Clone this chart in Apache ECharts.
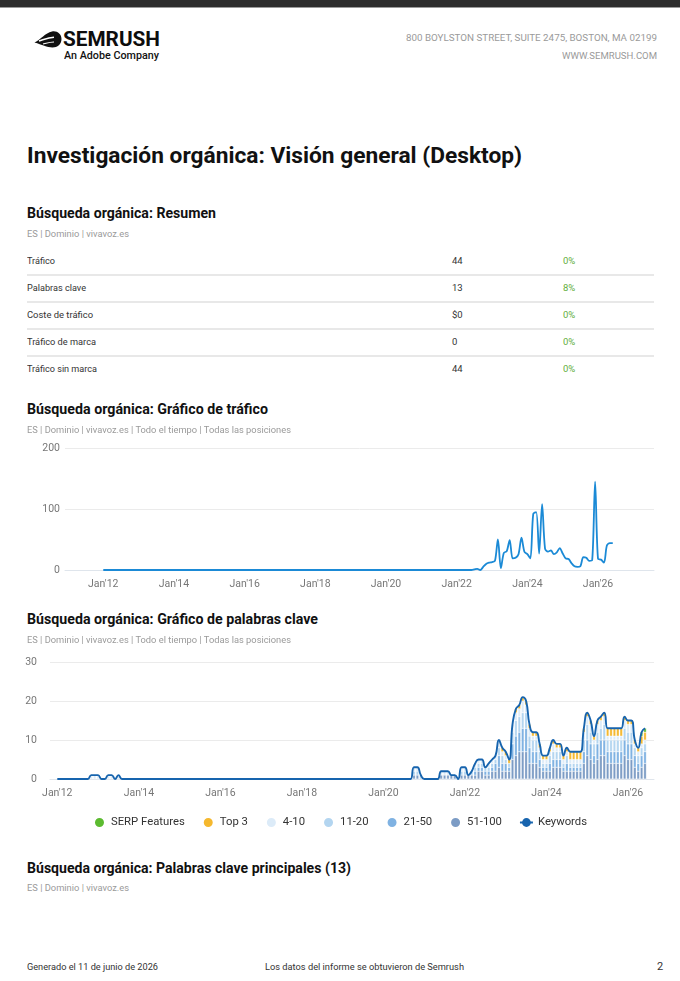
<!DOCTYPE html>
<html><head><meta charset="utf-8">
<script src="https://cdn.jsdelivr.net/npm/echarts@6/dist/echarts.min.js"></script>
<style>
html,body{margin:0;padding:0;background:#fff;}
body{width:680px;height:981px;position:relative;overflow:hidden;font-family:Roboto,"Noto Sans",sans-serif;color:#222;}
.t{position:absolute;white-space:nowrap;transform-origin:0 50%;display:inline-block;}
.sep{position:absolute;left:27px;width:627px;height:1.5px;background:#e8e8e8;}
#c1{position:absolute;left:0;top:430px;width:680px;height:175px;}
#c2{position:absolute;left:0;top:645px;width:680px;height:200px;}
</style></head>
<body>
<div style="position:absolute;left:0;top:0;width:680px;height:7px;background:#2d2d2d"></div>
<div style="position:absolute;left:0;top:7px;width:680px;height:1px;background:#9a9a9a"></div>
<svg style="position:absolute;left:33px;top:29px" width="30" height="20" viewBox="0 0 30 20">
<path d="M1.5 13.5 C8 10.5 12 4 19 2.5 C24 1.5 28.5 5 28.5 10 C28.5 15 24.5 18.5 19.5 18.5 C14 18.5 9 15.5 1.5 13.5 Z" fill="#111"/>
<path d="M6 12 C11 10.5 15 8.5 21 8.2" stroke="#fff" stroke-width="1.4" fill="none"/>
<path d="M10 15 C14 14 17 13 21 13" stroke="#fff" stroke-width="1.2" fill="none"/>
</svg>
<div class="sep" style="top:274px"></div>
<div class="sep" style="top:301px"></div>
<div class="sep" style="top:328px"></div>
<div class="sep" style="top:355px"></div>
<div id="c1"></div>
<div id="c2"></div>
<script>
// ---------- DATA ----------
const summaryLabels = ['Tráfico','Palabras clave','Coste de tráfico','Tráfico de marca','Tráfico sin marca'];
const summaryValues = ['44','13','$0','0','44'];
const summaryChanges = ['0%','8%','0%','0%','0%'];

const tickLabels = ["Jan'12","Jan'14","Jan'16","Jan'18","Jan'20","Jan'22","Jan'24","Jan'26"];

// monthly, Jan 2012 .. Jun 2026
const traffic = [
0,0,0,0,0,0,0,0,0,0,0,0, // 2012
0,0,0,0,0,0,0,0,0,0,0,0, // 2013
0,0,0,0,0,0,0,0,0,0,0,0, // 2014
0,0,0,0,0,0,0,0,0,0,0,0, // 2015
0,0,0,0,0,0,0,0,0,0,0,0, // 2016
0,0,0,0,0,0,0,0,0,0,0,0, // 2017
0,0,0,0,0,0,0,0,0,0,0,0, // 2018
0,0,0,0,0,0,0,0,0,0,0,0, // 2019
0,0,0,0,0,0,0,0,0,0,0,0, // 2020
0,0,0,0,0,0,0,0,0,0,0,0, // 2021
0,0,0,0,0,0,1,2,0,5,10,12, // 2022
13,15,50,3,28,31,49,19,20,26,53,30, // 2023
26,19,92,95,27,108,35,30,32,26,29,36, // 2024
27,19,18,11,6,5,6,21,20,15,16,145, // 2025
18,17,12,40,44,44 // 2026
];

const keywords = [
0,0,0,0,0,0,0,0,0,0,1,1, // 2012
1,0,0,1,1,0,1,0,0,0,0,0, // 2013
0,0,0,0,0,0,0,0,0,0,0,0, // 2014
0,0,0,0,0,0,0,0,0,0,0,0, // 2015
0,0,0,0,0,0,0,0,0,0,0,0, // 2016
0,0,0,0,0,0,0,0,0,0,0,0, // 2017
0,0,0,0,0,0,0,0,0,0,0,0, // 2018
0,0,0,0,0,0,0,0,0,0,0,0, // 2019
0,0,0,0,0,0,0,0,0,3,3,1, // 2020
0,0,0,0,0,2,2,2,1,1,0,3, // 2021
3,1,2,4,5,5,3,4,5,6,10,8, // 2022
7,5,14,18,19,21,20,14,12,12,9,6, // 2023
6,8,10,9,9,6,8,7,7,7,7,13, // 2024
17,15,11,15,16,17,13,13,13,13,13,16, // 2025
15,15,10,8,12,13 // 2026
];

const serpFeatures = [
0,0,0,0,0,0,0,0,0,0,0,0, 0,0,0,0,0,0,0,0,0,0,0,0,
0,0,0,0,0,0,0,0,0,0,0,0, 0,0,0,0,0,0,0,0,0,0,0,0,
0,0,0,0,0,0,0,0,0,0,0,0, 0,0,0,0,0,0,0,0,0,0,0,0,
0,0,0,0,0,0,0,0,0,0,0,0, 0,0,0,0,0,0,0,0,0,0,0,0,
0,0,0,0,0,0,0,0,0,0,0,0, 0,0,0,0,0,0,0,0,0,0,0,0, // 2020, 2021
0,0,0,0,0,0,0,0,0,0,0,0, // 2022
0,0,0,0,0,0,0,0,0,0,0,0, // 2023
0,0,0,0,0,0,0,0,0,0,0,0, // 2024
0,0,0,0,0,0,0,0,0,0,0,0, // 2025
0,0,0,0,1,1 // 2026
];
const top3 = [
0,0,0,0,0,0,0,0,0,0,0,0, 0,0,0,0,0,0,0,0,0,0,0,0,
0,0,0,0,0,0,0,0,0,0,0,0, 0,0,0,0,0,0,0,0,0,0,0,0,
0,0,0,0,0,0,0,0,0,0,0,0, 0,0,0,0,0,0,0,0,0,0,0,0,
0,0,0,0,0,0,0,0,0,0,0,0, 0,0,0,0,0,0,0,0,0,0,0,0,
0,0,0,0,0,0,0,0,0,0,0,0, 0,0,0,0,0,0,0,0,0,0,0,0, // 2020, 2021
0,0,0,0,0,0,0,0,0,0,0,1, // 2022
1,1,0,1,1,1,1,1,1,1,1,1, // 2023
1,1,1,1,1,1,1,2,2,2,2,1, // 2024
1,1,1,1,1,1,2,2,2,2,2,1, // 2025
1,1,1,1,2,2 // 2026
];
const pos4to10 = [
0,0,0,0,0,0,0,0,0,0,1,1, // 2012
1,0,0,1,1,0,1,0,0,0,0,0, // 2013
0,0,0,0,0,0,0,0,0,0,0,0, 0,0,0,0,0,0,0,0,0,0,0,0,
0,0,0,0,0,0,0,0,0,0,0,0, 0,0,0,0,0,0,0,0,0,0,0,0,
0,0,0,0,0,0,0,0,0,0,0,0, 0,0,0,0,0,0,0,0,0,0,0,0, // 2014-2019
0,0,0,0,0,0,0,0,0,1,1,0, // 2020
0,0,0,0,0,1,1,1,0,0,0,1, // 2021
1,0,0,1,1,1,0,1,1,1,2,1, // 2022
1,0,2,2,2,3,2,2,1,1,1,1, // 2023
1,1,2,1,1,1,1,1,1,1,1,2, // 2024
2,2,1,2,2,2,1,1,1,1,1,2, // 2025
2,2,1,1,1,1 // 2026
];
const pos11to20 = [
0,0,0,0,0,0,0,0,0,0,0,0, 0,0,0,0,0,0,0,0,0,0,0,0,
0,0,0,0,0,0,0,0,0,0,0,0, 0,0,0,0,0,0,0,0,0,0,0,0,
0,0,0,0,0,0,0,0,0,0,0,0, 0,0,0,0,0,0,0,0,0,0,0,0,
0,0,0,0,0,0,0,0,0,0,0,0, 0,0,0,0,0,0,0,0,0,0,0,0, // 2012-2019
0,0,0,0,0,0,0,0,0,1,1,1, // 2020
0,0,0,0,0,0,0,0,0,0,0,1, // 2021
1,0,1,1,1,1,1,1,1,1,2,2, // 2022
1,1,3,4,4,4,4,3,3,3,2,1, // 2023
1,2,2,2,2,1,2,1,1,1,1,3, // 2024
4,3,3,3,3,4,3,3,3,3,3,3, // 2025
3,3,2,2,2,2 // 2026
];
const pos21to50 = [
0,0,0,0,0,0,0,0,0,0,0,0, 0,0,0,0,0,0,0,0,0,0,0,0,
0,0,0,0,0,0,0,0,0,0,0,0, 0,0,0,0,0,0,0,0,0,0,0,0,
0,0,0,0,0,0,0,0,0,0,0,0, 0,0,0,0,0,0,0,0,0,0,0,0,
0,0,0,0,0,0,0,0,0,0,0,0, 0,0,0,0,0,0,0,0,0,0,0,0,
0,0,0,0,0,0,0,0,0,0,0,0, 0,0,0,0,0,0,0,0,0,0,0,0, // 2012-2021
0,0,0,1,1,1,1,1,1,2,3,2, // 2022
2,1,4,5,5,6,6,4,3,3,2,1, // 2023
1,2,2,2,2,1,2,1,1,1,1,3, // 2024
4,4,2,4,4,4,3,3,3,3,3,4, // 2025
4,4,3,2,3,3 // 2026
];
const pos51to100 = [
0,0,0,0,0,0,0,0,0,0,0,0, 0,0,0,0,0,0,0,0,0,0,0,0,
0,0,0,0,0,0,0,0,0,0,0,0, 0,0,0,0,0,0,0,0,0,0,0,0,
0,0,0,0,0,0,0,0,0,0,0,0, 0,0,0,0,0,0,0,0,0,0,0,0,
0,0,0,0,0,0,0,0,0,0,0,0, 0,0,0,0,0,0,0,0,0,0,0,0, // 2012-2019
0,0,0,0,0,0,0,0,0,1,1,0, // 2020
0,0,0,0,0,1,1,1,1,1,0,1, // 2021
1,1,1,1,2,2,1,1,2,2,3,2, // 2022
2,2,5,6,7,7,7,4,4,4,3,2, // 2023
2,2,3,3,3,2,2,2,2,2,2,4, // 2024
6,5,4,5,6,6,4,4,4,4,4,6, // 2025
5,5,3,2,3,4 // 2026
];

// ---------- TEXT ----------
const texts = [
 {t:'SEMRUSH', x:63, y:39, s:20, w:700, c:'#0d0d0d', fw:97},
 {t:'An Adobe Company', x:64, y:56, s:10.5, w:500, c:'#111', fw:95},
 {t:'800 BOYLSTON STREET, SUITE 2475, BOSTON, MA 02199', r:657, y:38, s:9, c:'#9a9a9a', fw:251},
 {t:'WWW.SEMRUSH.COM', r:657, y:56, s:9, c:'#9a9a9a', fw:95},
 {t:'Investigación orgánica: Visión general (Desktop)', x:27, y:155, s:22.5, w:700, c:'#111', fw:495},
 {t:'Búsqueda orgánica: Resumen', x:27, y:213, s:14, w:700, c:'#111', fw:189},
 {t:'ES | Dominio | vivavoz.es', x:27, y:234, s:9.5, c:'#9a9a9a', fw:102},
 {t:'Búsqueda orgánica: Gráfico de tráfico', x:27, y:409, s:14, w:700, c:'#111', fw:241},
 {t:'ES | Dominio | vivavoz.es | Todo el tiempo | Todas las posiciones', x:27, y:430, s:9.5, c:'#9a9a9a', fw:264},
 {t:'Búsqueda orgánica: Gráfico de palabras clave', x:27, y:619, s:14, w:700, c:'#111', fw:291},
 {t:'ES | Dominio | vivavoz.es | Todo el tiempo | Todas las posiciones', x:27, y:640, s:9.5, c:'#9a9a9a', fw:264},
 {t:'Búsqueda orgánica: Palabras clave principales (13)', x:27, y:868, s:14, w:700, c:'#111', fw:324},
 {t:'ES | Dominio | vivavoz.es', x:27, y:888, s:9.5, c:'#9a9a9a', fw:102},
 {t:'Generado el 11 de junio de 2026', x:27, y:967, s:9.5, c:'#333', fw:131},
 {t:'Los datos del informe se obtuvieron de Semrush', x:265, y:967, s:9.5, c:'#333', fw:199},
 {t:'2', x:657, y:967, s:11, c:'#333'}
];
const rowY = [261,288,315,342,369];
const labelW = [28,59,66,69,70];
summaryLabels.forEach((l,i)=>{
  texts.push({t:l, x:27, y:rowY[i], s:9.5, c:'#333', fw:labelW[i]});
  texts.push({t:summaryValues[i], x:452, y:rowY[i], s:9.5, c:'#333'});
  texts.push({t:summaryChanges[i], x:563, y:rowY[i], s:9.5, c:'#5fae3c'});
});
const els = texts.map(o=>{
  const d = document.createElement('div');
  d.className='t'; d.textContent=o.t;
  const lh = Math.round(o.s*1.3);
  d.style.fontSize=o.s+'px'; d.style.lineHeight=lh+'px';
  d.style.top=(o.y-lh/2)+'px'; d.style.fontWeight=o.w||400; d.style.color=o.c;
  d.style.left=(o.r!==undefined? (o.r-(o.fw||0)) : o.x)+'px';
  document.body.appendChild(d);
  return [d,o];
});
function fit(){
  els.forEach(([d,o])=>{
    if(!o.fw) return;
    d.style.transform='none';
    const w = d.getBoundingClientRect().width;
    if(w>0) d.style.transform='scaleX('+(o.fw/w)+')';
  });
}
fit();
if(document.fonts && document.fonts.ready) document.fonts.ready.then(fit);

// ---------- CHARTS ----------
const tickMonths = tickLabels.map((_,i)=>i*24);
const labelFor = v => tickLabels[Math.round(v/24)] || '';
const axisFont = {color:'#777', fontSize:10.5, fontFamily:'Roboto'};
const pairs = arr => arr.map((v,i)=>[i, v]);
// value first so that stacking applies to the y (value) dimension
const barPairs = arr => arr.map((v,i)=>[v===0? null : v, i]);

const c1 = echarts.init(document.getElementById('c1'), null, {renderer:'canvas'});
c1.setOption({
  animation:false,
  grid:{left:65, right:26, top:18, height:122},
  xAxis:{type:'value', min:-13, max:187, splitLine:{show:false}, axisTick:{show:false},
    axisLine:{show:true, lineStyle:{color:'#dfe5ec'}},
    axisLabel:Object.assign({customValues:tickMonths, formatter:labelFor, margin:9}, axisFont)},
  yAxis:{type:'value', min:0, max:200, interval:100,
    axisLabel:Object.assign({margin:5}, axisFont),
    splitLine:{lineStyle:{color:'#ebebeb'}}, axisLine:{show:false}, axisTick:{show:false}},
  series:[{type:'line', data:pairs(traffic), smooth:0.3, showSymbol:false, symbol:'none',
    lineStyle:{color:'#1b8ad6', width:1.8}}]
});

const barColors = {'SERP Features':'#5cbb30','Top 3':'#f5b82e','4-10':'#dcebf8','11-20':'#b3d5f0','21-50':'#7fb2e2','51-100':'#7c9cc5'};
const stackOrder = [['51-100',pos51to100],['21-50',pos21to50],['11-20',pos11to20],['4-10',pos4to10],['Top 3',top3],['SERP Features',serpFeatures]];
const barSeries = stackOrder.map(([n,arr])=>({
  type:'bar', name:n, stack:'kw', data:barPairs(arr), encode:{x:1, y:0}, barWidth:2.6,
  itemStyle:{color:barColors[n], borderColor:'#ffffff', borderWidth:0.3}
}));
const c2 = echarts.init(document.getElementById('c2'), null, {renderer:'canvas'});
c2.setOption({
  animation:false,
  grid:{left:50, right:26, top:17, height:117},
  legend:{top:166, left:'center', itemWidth:13, itemHeight:11, itemGap:17,
    textStyle:{fontSize:11.3, color:'#333', fontFamily:'Roboto'},
    data:[{name:'SERP Features',icon:'circle'},{name:'Top 3',icon:'circle'},{name:'4-10',icon:'circle'},
      {name:'11-20',icon:'circle'},{name:'21-50',icon:'circle'},{name:'51-100',icon:'circle'},{name:'Keywords'}]},
  xAxis:{type:'value', min:-2.15, max:175.65, splitLine:{show:false}, axisTick:{show:false},
    axisLine:{show:true, lineStyle:{color:'#dfe5ec'}},
    axisLabel:Object.assign({customValues:tickMonths, formatter:labelFor, margin:9}, axisFont)},
  yAxis:{type:'value', min:0, max:30, interval:10,
    axisLabel:Object.assign({margin:13}, axisFont),
    splitLine:{lineStyle:{color:'#ebebeb'}}, axisLine:{show:false}, axisTick:{show:false}},
  series: barSeries.concat([{type:'line', name:'Keywords', data:pairs(keywords), smooth:0.5,
    symbol:'circle', symbolSize:6, showSymbol:false, z:10,
    lineStyle:{color:'#1764ae', width:1.9}, itemStyle:{color:'#1764ae'}}])
});
</script>
</body></html>
